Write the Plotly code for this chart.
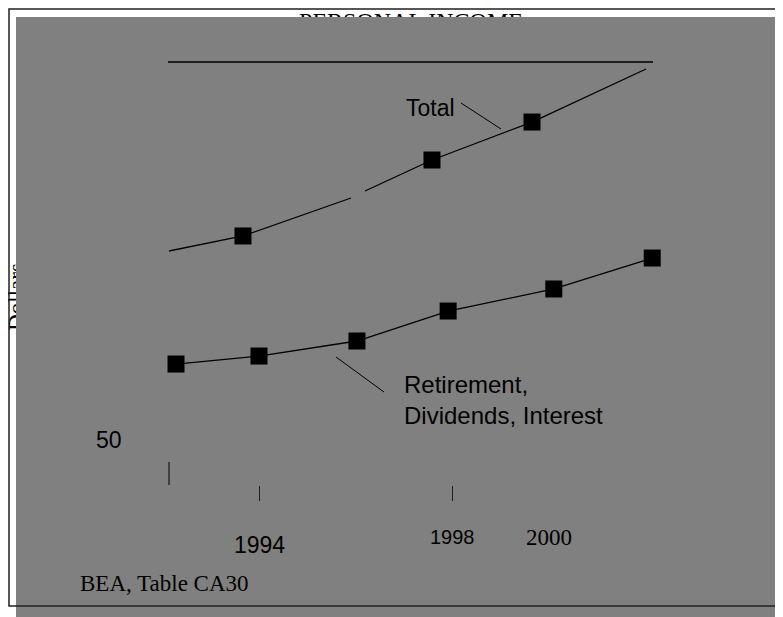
import plotly.graph_objects as go

# ---- data ----
total_line_years = [1992.135, 1993.668, 1995.907, None, 1996.197, 1997.585, 1999.658, 2002.021]
total_line_values = [260.0, 276.7, 318.9, None, 326.7, 361.1, 403.3, 462.2]
total_marker_years = [1993.668, 1997.585, 1999.658]
total_marker_values = [276.7, 361.1, 403.3]

retire_years = [1992.28, 1994.0, 1996.03, 1997.92, 2000.11, 2002.15]
retire_values = [134.4, 143.3, 160.0, 193.3, 217.8, 252.2]

tick_years = [1994, 1998]
year_labels = ["1994", "1998", "2000"]
year_label_pos = [1994, 1998, 2000]
y_tick_value = 50

title_text = "PERSONAL INCOME"
ytitle_text = "Dollars"
source_text = "BEA, Table CA30"

# ---- geometry (page pixels; the page adds an 8px body margin) ----
OFF = 8
L, R, T, B = 169, 653, 62, 485
W, H = 783 - OFF, 617 - OFF
PX_PER_YEAR = 48.25
PX_PER_UNIT = 0.9

def xp(px):
    return (px - L) / (R - L)
def yp(py):
    return (B - py) / (B - T)
def yr(px):
    return 1994 + (px - 259) / PX_PER_YEAR
def val(py):
    return (B - py) / PX_PER_UNIT

SANS = "Liberation Sans, Arial, sans-serif"
SERIF = "Liberation Serif, Times New Roman, serif"

fig = go.Figure()
fig.add_trace(go.Scatter(x=total_line_years, y=total_line_values, mode="lines",
                         line=dict(color="black", width=1.3), connectgaps=False,
                         cliponaxis=False, hoverinfo="skip"))
fig.add_trace(go.Scatter(x=total_marker_years, y=total_marker_values, mode="markers",
                         marker=dict(symbol="square", size=17, color="black"),
                         cliponaxis=False))
fig.add_trace(go.Scatter(x=retire_years, y=retire_values, mode="lines+markers",
                         line=dict(color="black", width=1.3),
                         marker=dict(symbol="square", size=17, color="black"),
                         cliponaxis=False))

shapes = [
    # title (as shape label so the grey panel can cover its lower part)
    dict(type="rect", xref="paper", yref="paper",
         x0=xp(401), x1=xp(421), y0=yp(28), y1=yp(8), layer="below",
         line=dict(width=0), fillcolor="rgba(0,0,0,0)",
         label=dict(text=title_text, textposition="middle center",
                    font=dict(family=SERIF, size=24, color="black"))),
    dict(type="rect", xref="paper", yref="paper",
         x0=xp(3), x1=xp(23), y0=yp(307), y1=yp(287), layer="below",
         line=dict(width=0), fillcolor="rgba(0,0,0,0)",
         label=dict(text=ytitle_text, textposition="middle center", textangle=-90,
                    font=dict(family=SERIF, size=23, color="black"))),
    # grey panel
    dict(type="rect", xref="paper", yref="paper",
         x0=xp(16), x1=xp(800), y0=yp(630), y1=yp(17), layer="below",
         line=dict(width=0), fillcolor="#808080"),
    # page border
    dict(type="rect", xref="paper", yref="paper",
         x0=xp(9), x1=xp(810), y0=yp(606), y1=yp(9), layer="below",
         line=dict(width=1.5, color="#202020"), fillcolor="rgba(0,0,0,0)"),
    # top rule
    dict(type="line", xref="paper", yref="paper", x0=xp(168), x1=1, y0=1, y1=1,
         line=dict(color="black", width=1.5)),
    # long tick at the left end
    dict(type="line", xref="paper", yref="y", x0=0, x1=0,
         y0=val(462), y1=val(492), line=dict(color="black", width=1)),
    # leader lines
    dict(type="line", xref="x", yref="y", x0=yr(461), y0=val(103), x1=yr(501), y1=val(129),
         line=dict(color="black", width=1)),
    dict(type="line", xref="x", yref="y", x0=yr(336), y0=val(357), x1=yr(384), y1=val(392),
         line=dict(color="black", width=1)),
]

def ann(text, x, y, xref, yref, font, xanchor="center", align="center"):
    return dict(text=text, x=x, y=y, xref=xref, yref=yref, showarrow=False,
                xanchor=xanchor, yanchor="middle", align=align, font=font)

annotations = [
    ann("Total", yr(430), val(108), "x", "y", dict(family=SANS, size=23, color="black")),
    ann("Retirement,<br>Dividends, Interest", yr(402), val(400), "x", "y",
        dict(family=SANS, size=24, color="black"), xanchor="left", align="left"),
    ann(str(y_tick_value), xp(109), y_tick_value, "paper", "y",
        dict(family=SANS, size=23, color="black")),
    ann(year_labels[0], year_label_pos[0], yp(545), "x", "paper",
        dict(family=SANS, size=23, color="black")),
    ann(year_labels[1], year_label_pos[1], yp(537), "x", "paper",
        dict(family=SANS, size=20, color="black")),
    ann(year_labels[2], year_label_pos[2], yp(537), "x", "paper",
        dict(family=SERIF, size=23, color="black")),
    ann(source_text, xp(78), yp(583), "paper", "paper",
        dict(family=SERIF, size=23, color="black"), xanchor="left", align="left"),
]

fig.update_layout(
    width=W, height=H,
    margin=dict(l=L - OFF, r=W - (R - OFF), t=T - OFF, b=H - (B - OFF), pad=0),
    paper_bgcolor="white", plot_bgcolor="rgba(0,0,0,0)",
    showlegend=False, shapes=shapes, annotations=annotations,
    xaxis=dict(range=[yr(L), yr(R)],
               showgrid=False, zeroline=False, showline=False,
               ticks="outside", ticklen=15, tickwidth=1, tickcolor="#202020",
               tickvals=tick_years, showticklabels=False),
    yaxis=dict(range=[0, val(T)], showgrid=False, zeroline=False,
               showline=False, showticklabels=False, ticks=""),
)

fig.write_html("out.html")
